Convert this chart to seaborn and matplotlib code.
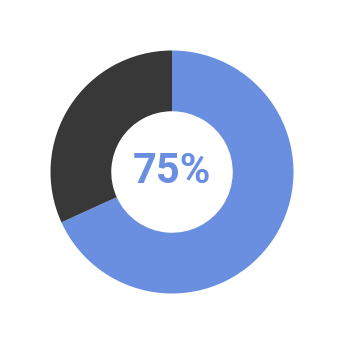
import matplotlib
matplotlib.use("Agg")
import matplotlib.pyplot as plt
import seaborn as sns

labels = ["Value", "Remaining"]
values = [68.2, 31.8]
colors = ["#6a8fe0", "#383838"]
center_label = "75%"

sns.set_theme(style="white")
plt.rcParams['font.family'] = ['Roboto', 'DejaVu Sans']

fig = plt.figure(figsize=(3.44, 3.44), dpi=100)
ax = fig.add_axes([0, 0, 1, 1])
ax.pie(values, colors=colors, startangle=90, counterclock=False,
       radius=1.0, wedgeprops=dict(width=0.5, edgecolor='none'))
L = 344 / (2 * 121.5)
ax.set_xlim(-L, L)
ax.set_ylim(-L, L)
ax.set_aspect('equal')
ax.axis('off')
ax.text(0, 0.005, center_label, ha='center', va='center', fontsize=30,
        fontweight='bold', color="#6a8fe0")
fig.savefig("out.png", dpi=100, facecolor='white')
